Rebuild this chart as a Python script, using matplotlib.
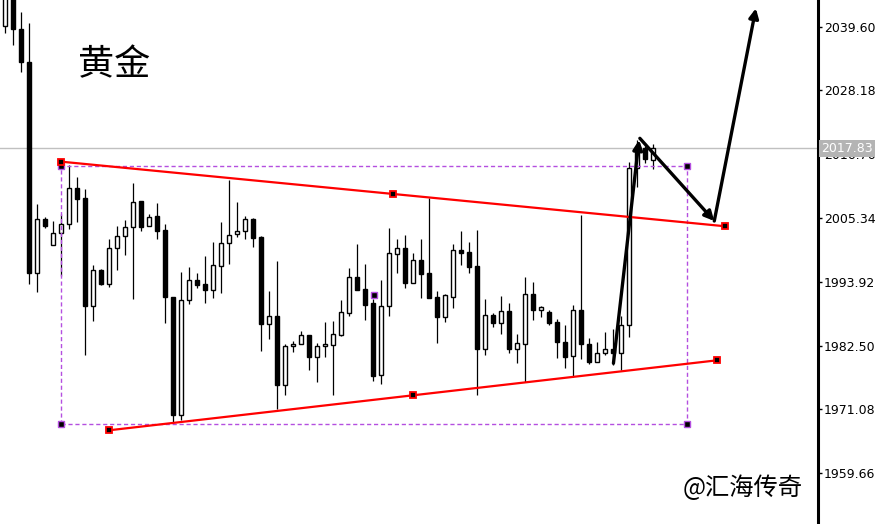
import matplotlib
matplotlib.use("Agg")
import matplotlib.pyplot as plt
import matplotlib.transforms as mtransforms
from matplotlib.patches import Rectangle
import numpy as np

# gold candles (oldest -> newest)
opens = [2039.73, 2044.92, 2039.14, 2033.28, 1995.46, 2005.18, 2000.47, 2002.62, 2004.23, 2010.67,
         2008.94, 1989.66, 1996.05, 1993.63, 1999.93, 2002.08, 2003.69, 2008.31, 2003.87, 2005.66,
         2003.21, 1991.16, 1970.15, 1990.63, 1994.26, 1993.54, 1992.52, 1996.82, 2000.83, 2002.44,
         2002.98, 2005.13, 2001.90, 1986.44, 1987.82, 1975.52, 1982.39, 1982.86, 1984.36, 1980.53,
         1982.39, 1982.68, 1984.47, 1988.41, 1994.80, 1992.65, 1990.14, 1977.31, 1989.66, 1998.86,
         1999.93, 1993.78, 1997.84, 1995.51, 1991.22, 1987.69, 1991.27, 1999.63, 1999.22, 1996.77,
         1981.96, 1987.94, 1986.62, 1988.66, 1981.96, 1982.86, 1991.70, 1988.84, 1988.59, 1986.69,
         1983.11, 1980.60, 1988.84, 1982.75, 1979.53, 1981.14, 1981.85, 1981.14, 1986.15, 2014.25,
         2017.83, 2015.69]
highs = [2047.96, 2046.17, 2042.23, 2040.26, 2007.86, 2005.59, 2004.82, 2006.07, 2014.90, 2012.70,
         2010.55, 1996.95, 1996.23, 2001.60, 2003.93, 2005.00, 2011.62, 2008.40, 2006.07, 2008.04,
         2004.28, 1991.22, 1995.69, 1996.59, 1995.51, 1998.50, 2001.06, 2004.64, 2012.16, 2008.22,
         2005.72, 2005.30, 2002.08, 1992.29, 1997.66, 1982.75, 1983.34, 1985.08, 1984.47, 1982.98,
         1986.69, 1986.92, 1990.68, 1996.41, 2000.70, 1997.12, 1990.81, 1994.26, 2003.57, 2001.60,
         2002.32, 1999.04, 2001.60, 2009.00, 1992.29, 1991.70, 2000.70, 2003.03, 2001.06, 2003.21,
         1990.86, 1988.35, 1991.40, 1990.14, 1984.60, 1994.80, 1993.90, 1989.66, 1988.89, 1987.28,
         1986.15, 1989.79, 2005.90, 1983.82, 1983.11, 1984.95, 1985.44, 1987.82, 2015.33, 2019.32,
         2018.25, 2018.60]
lows = [2038.53, 2036.38, 2031.55, 1993.54, 1992.17, 2003.62, 2000.47, 1994.98, 2003.44, 2004.70,
        1980.89, 1986.97, 1993.40, 1993.06, 1996.10, 1998.79, 1990.91, 2003.09, 2003.87, 2001.65,
        1986.62, 1968.90, 1969.26, 1990.02, 1992.88, 1990.20, 1991.09, 1991.99, 1997.12, 2002.01,
        2001.65, 2000.22, 1981.61, 1983.75, 1971.22, 1973.73, 1981.42, 1982.86, 1978.21, 1976.06,
        1980.53, 1973.67, 1984.29, 1987.87, 1992.52, 1987.15, 1976.23, 1975.70, 1987.87, 1995.57,
        1992.88, 1993.78, 1991.09, 1991.09, 1983.04, 1986.74, 1989.25, 1996.95, 1995.57, 1973.73,
        1980.89, 1985.90, 1984.65, 1981.25, 1979.46, 1976.06, 1987.15, 1987.69, 1986.21, 1980.35,
        1978.56, 1976.95, 1980.07, 1979.17, 1979.53, 1980.83, 1979.05, 1978.15, 1984.11, 2010.96,
        2015.26, 2014.08]
closes = [2045.81, 2039.14, 2033.23, 1995.46, 2005.13, 2003.98, 2002.62, 2004.23, 2010.67, 2008.81,
          1989.66, 1996.00, 1993.60, 1999.93, 2002.08, 2003.69, 2008.17, 2003.80, 2005.48, 2003.09,
          1991.16, 1970.15, 1990.63, 1994.21, 1993.42, 1992.52, 1996.89, 2000.83, 2002.26, 2002.98,
          2005.13, 2001.83, 1986.44, 1987.82, 1975.52, 1982.39, 1982.80, 1984.36, 1980.53, 1982.39,
          1982.80, 1984.60, 1988.48, 1994.80, 1992.52, 1989.84, 1977.13, 1989.61, 1999.04, 1999.93,
          1993.78, 1997.84, 1995.39, 1991.09, 1987.69, 1991.52, 1999.57, 1999.15, 1996.64, 1981.96,
          1987.94, 1986.62, 1988.66, 1981.96, 1982.93, 1991.70, 1988.95, 1989.43, 1986.62, 1983.11,
          1980.53, 1988.84, 1982.75, 1979.53, 1981.14, 1981.85, 1981.14, 1986.15, 2014.25, 2017.83,
          2015.87, 2017.83]

price_ticks = [2039.60, 2028.18, 2016.76, 2005.34, 1993.92, 1982.50, 1971.08, 1959.66]
last_price = 2017.83

# drawn objects (bar index, price)
upper_line = ([7.0, 48.5, 90.0], [2015.44, 2009.60, 2003.87])
lower_line = ([13.0, 51.0, 89.0], [1967.36, 1973.62, 1979.89])
box_x = [7.0, 85.25]
box_y = [1968.42, 2014.61]
arrows = [((76.0, 1979.35), (79.2, 2019.32)),
          ((79.3, 2019.62), (88.6, 2004.82)),
          ((88.6, 2004.82), (93.8, 2042.89))]

RED = "#ff0000"
PURPLE = "#b44fe0"
CJK = ["Noto Sans CJK SC", "DejaVu Sans"]

fig = plt.figure(figsize=(8.85, 5.24), dpi=100)
ax = fig.add_axes([0, 0, 817.5 / 885, 1])

x = np.arange(len(opens))
o = np.array(opens)
c = np.array(closes)
up = c >= o

# wicks first, bodies on top
ax.vlines(x, lows, highs, color="black", lw=0.9, zorder=2)
ax.bar(x, c - o, bottom=o, width=0.5,
       color=np.where(up, "white", "black"), edgecolor="black",
       linewidth=1.0, zorder=3)

# current price line
ax.axhline(last_price, color="#c0c0c0", lw=1, zorder=1)

# dashed rectangle + anchor points
ax.add_patch(Rectangle((box_x[0], box_y[0]), box_x[1] - box_x[0], box_y[1] - box_y[0],
                       fill=False, edgecolor=PURPLE, lw=1, ls=(0, (3, 2)), zorder=4))
cx = [box_x[0], box_x[0], box_x[1], box_x[1], sum(box_x) / 2]
cy = [box_y[0], box_y[1], box_y[1], box_y[0], sum(box_y) / 2]
ax.plot(cx, cy, ls="none", marker="s", ms=4, mfc="black", mec=PURPLE, mew=1, zorder=6)

# channel lines
for lx, ly in (upper_line, lower_line):
    ax.plot([lx[0], lx[-1]], [ly[0], ly[-1]], color=RED, lw=1.6, zorder=5)
    ax.plot(lx, ly, ls="none", marker="s", ms=5, mfc="black", mec=RED, mew=1.3, zorder=6)

# arrows
for start, tip in arrows:
    ax.annotate("", xy=tip, xytext=start,
                arrowprops=dict(arrowstyle="-|>", color="black", lw=2.4,
                                mutation_scale=14, shrinkA=0, shrinkB=0),
                zorder=7)

ax.set_xlim(-0.66, 101.5)
ax.set_ylim(1950.58, 2044.38)

for side in ("top", "left", "bottom"):
    ax.spines[side].set_visible(False)
ax.spines["right"].set_linewidth(2.2)
ax.set_xticks([])
ax.yaxis.tick_right()
ax.set_yticks(price_ticks)
ax.set_yticklabels([f"{v:.2f}" for v in price_ticks])
ax.tick_params(axis="y", direction="out", length=3, width=1, pad=1.5,
               labelsize=9, colors="black")

# last price tag over the axis
trans = mtransforms.blended_transform_factory(ax.transAxes, ax.transData)
ax.text(1.005, last_price, f"{last_price:.2f}", transform=trans, ha="left", va="center",
        fontsize=9, color="white", zorder=10, clip_on=False,
        bbox=dict(boxstyle="square,pad=0.18", facecolor="#b4b4b4", edgecolor="none"))

fig.text(78 / 885, 1 - 65 / 524, "黄金", family=CJK, fontsize=26,
         ha="left", va="center", color="black")
fig.text(683 / 885, 1 - 488 / 524, "@汇海传奇", family=CJK, fontsize=17.5,
         ha="left", va="center", color="black")

fig.savefig("out.png", dpi=100, facecolor="white")
